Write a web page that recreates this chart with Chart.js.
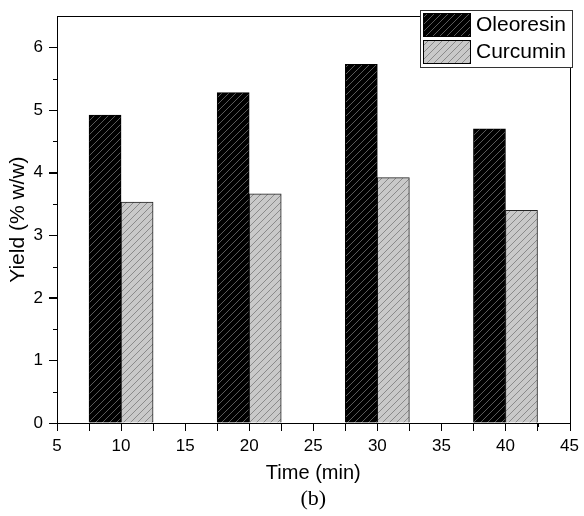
<!DOCTYPE html>
<html>
<head>
<meta charset="utf-8">
<script src="https://cdn.jsdelivr.net/npm/chart.js@4.4.1/dist/chart.umd.min.js"></script>
<style>
  body { margin: 0; background: #fff; }
  canvas { display: block; }
</style>
</head>
<body>
<canvas id="grafico" width="584" height="516"></canvas>
<script>
    // Datos
    const tiempos = [10, 20, 30, 40];
    const oleoresina = [4.92, 5.28, 5.73, 4.70];
    const curcumina = [3.53, 3.66, 3.92, 3.40];
    const ticksX = [5, 10, 15, 20, 25, 30, 35, 40, 45];
    const ticksY = [0, 1, 2, 3, 4, 5, 6];
    const menoresX = [7.5, 12.5, 17.5, 22.5, 27.5, 32.5, 37.5, 42.5];
    const menoresY = [0.5, 1.5, 2.5, 3.5, 4.5, 5.5];
    const etiquetas = ['Oleoresin', 'Curcumin'];

    const fuente = '"Liberation Sans", Arial, sans-serif';

    // Patron rayado en diagonal "/"
    function crearPatron(fondo, linea) {
        const s = 7;
        const c = document.createElement('canvas');
        c.width = s; c.height = s;
        const g = c.getContext('2d');
        g.fillStyle = fondo;
        g.fillRect(0, 0, s, s);
        g.strokeStyle = linea;
        g.lineWidth = 1;
        g.beginPath();
        g.moveTo(0, s); g.lineTo(s, 0);
        g.moveTo(-1, 1); g.lineTo(1, -1);
        g.moveTo(s - 1, s + 1); g.lineTo(s + 1, s - 1);
        g.stroke();
        return document.getElementById('grafico').getContext('2d').createPattern(c, 'repeat');
    }

    const patronNegro = crearPatron('#000', '#5a5a5a');
    const patronGris = crearPatron('#c9c9c9', '#8a8a8a');

    // Marco superior/derecho, ticks mayores y menores, leyenda y "(b)"
    const extras = {
        id: 'extras',
        afterDraw(chart) {
            const ctx = chart.ctx;
            const a = chart.chartArea;
            const x = chart.scales.x, y = chart.scales.y;
            ctx.save();
            ctx.strokeStyle = '#000';
            ctx.lineWidth = 1;
            ctx.beginPath();
            ctx.moveTo(Math.round(a.left) + 0.5, Math.round(a.top) + 0.5);
            ctx.lineTo(Math.round(a.right) + 0.5, Math.round(a.top) + 0.5);
            ctx.lineTo(Math.round(a.right) + 0.5, Math.round(a.bottom) + 0.5);
            ctx.stroke();

            const marca = (valores, largo) => {
                valores.forEach(v => {
                    const px = Math.round(x.getPixelForValue(v)) + 0.5;
                    ctx.moveTo(px, a.bottom);
                    ctx.lineTo(px, a.bottom + largo);
                });
            };
            const marcaY = (valores, largo) => {
                valores.forEach(v => {
                    const py = Math.round(y.getPixelForValue(v)) + 0.5;
                    ctx.moveTo(a.left, py);
                    ctx.lineTo(a.left - largo, py);
                });
            };
            ctx.beginPath();
            marca(ticksX, 8);
            marca(menoresX, 4);
            marcaY(ticksY, 8);
            marcaY(menoresY, 4);
            ctx.stroke();

            // leyenda
            const lx = 420.5, ly = 10.5, lw = 152, lh = 57;
            ctx.fillStyle = '#fff';
            ctx.fillRect(lx, ly, lw, lh);
            ctx.strokeStyle = '#333';
            ctx.strokeRect(lx, ly, lw, lh);
            chart.data.datasets.forEach((ds, i) => {
                const sy = 13.5 + i * 27;
                ctx.fillStyle = ds.backgroundColor;
                ctx.fillRect(423.5, sy, 47, 23);
                ctx.strokeStyle = '#000';
                ctx.strokeRect(423.5, sy, 47, 23);
                ctx.fillStyle = '#000';
                ctx.font = '21px ' + fuente;
                ctx.textBaseline = 'middle';
                ctx.textAlign = 'left';
                ctx.fillText(ds.label, 476, sy + 12);
            });

            ctx.font = '22px "Liberation Serif", "Times New Roman", serif';
            ctx.textAlign = 'center';
            ctx.textBaseline = 'middle';
            ctx.fillText('(b)', (a.left + a.right) / 2, 499);
            ctx.restore();
        }
    };

    new Chart(document.getElementById('grafico'), {
        type: 'bar',
        data: {
            datasets: [{
                label: etiquetas[0],
                data: tiempos.map((t, i) => ({ x: t, y: oleoresina[i] })),
                backgroundColor: patronNegro,
                borderColor: '#000',
                borderWidth: 1
            }, {
                label: etiquetas[1],
                data: tiempos.map((t, i) => ({ x: t, y: curcumina[i] })),
                backgroundColor: patronGris,
                borderColor: '#222',
                borderWidth: 1
            }]
        },
        options: {
            responsive: false,
            animation: false,
            devicePixelRatio: 1,
            barPercentage: 1,
            categoryPercentage: 1,
            layout: { padding: { top: 11, right: 11, left: 0, bottom: 0 } },
            scales: {
                x: {
                    type: 'linear',
                    min: 5,
                    max: 45,
                    offset: false,
                    afterBuildTicks: s => { s.ticks = ticksX.map(v => ({ value: v })); },
                    afterFit: s => { s.height = 93; },
                    grid: { drawOnChartArea: false, drawTicks: true, tickLength: 8, color: '#000' },
                    border: { color: '#000', width: 1 },
                    ticks: { color: '#000', padding: 5, maxRotation: 0, font: { family: fuente, size: 17 } },
                    title: {
                        display: true,
                        text: 'Time (min)',
                        color: '#000',
                        font: { family: fuente, size: 20 },
                        padding: { top: 4, bottom: 31 }
                    }
                },
                y: {
                    min: 0,
                    max: 6.5,
                    afterBuildTicks: s => { s.ticks = ticksY.map(v => ({ value: v })); },
                    afterFit: s => { s.width = 57; },
                    grid: { drawOnChartArea: false, drawTicks: true, tickLength: 8, color: '#000' },
                    border: { color: '#000', width: 1 },
                    ticks: { color: '#000', padding: 6, font: { family: fuente, size: 17 } },
                    title: {
                        display: true,
                        text: 'Yield (% w/w)',
                        color: '#000',
                        font: { family: fuente, size: 21 },
                        padding: { top: 6, bottom: 0 }
                    }
                }
            },
            plugins: {
                legend: { display: false },
                tooltip: { enabled: false }
            }
        },
        plugins: [extras]
    });
</script>
</body>
</html>
